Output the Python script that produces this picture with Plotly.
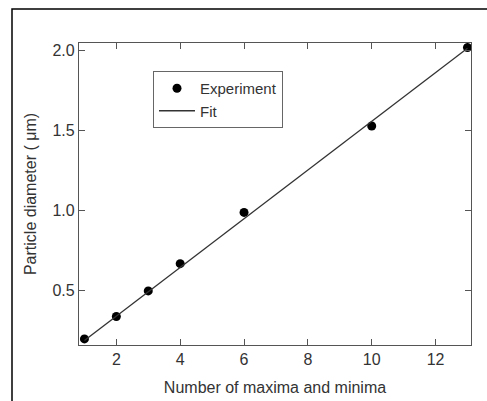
import plotly.graph_objects as go

# Data
x_exp = [1, 2, 3, 4, 6, 10, 13]
y_exp = [0.20, 0.34, 0.50, 0.67, 0.99, 1.53, 2.02]
x_fit = [1, 13]
y_fit = [0.19, 2.015]
x_ticks = [2, 4, 6, 8, 10, 12]
y_ticks = [0.5, 1.0, 1.5, 2.0]

W, H = 487, 401
L, R, T, B = 79, 16, 43, 56
pw, ph = W - L - R, H - T - B

def px(xp):
    return (xp - L) / pw

def py(yp):
    return (H - B - yp) / ph

FONT = "Liberation Sans, Arial, Helvetica"
TXT = "#333333"

fig = go.Figure()
fig.add_trace(go.Scatter(x=x_exp, y=y_exp, mode="markers", name="Experiment",
                         marker=dict(color="black", size=9)))
fig.add_trace(go.Scatter(x=x_fit, y=y_fit, mode="lines", name="Fit",
                         line=dict(color="#333333", width=1.3)))

axis_common = dict(showline=True, linecolor="#555555", linewidth=1.2, mirror="ticks",
                   ticks="inside", ticklen=6, tickcolor="#555555", tickwidth=1,
                   showgrid=False, zeroline=False, automargin=False,
                   tickfont=dict(family=FONT, size=16, color=TXT))

fig.update_layout(
    width=W, height=H,
    margin=dict(l=L, r=R, t=T, b=B, autoexpand=False),
    paper_bgcolor="white", plot_bgcolor="white",
    font=dict(family=FONT, size=15, color=TXT),
    xaxis=dict(range=[0.83, 13.11], tickvals=x_ticks,
               title=dict(text="Number of maxima and minima", standoff=14,
                          font=dict(size=16, color=TXT)),
               **axis_common),
    yaxis=dict(range=[0.162, 2.048], tickvals=y_ticks, tickformat=".1f",
               title=dict(text="Particle diameter ( μm)", standoff=11,
                          font=dict(size=16, color=TXT)),
               **axis_common),
    legend=dict(x=px(153), y=py(71), xanchor="left", yanchor="top",
                bordercolor="#666666", borderwidth=1, bgcolor="white",
                font=dict(size=15, color=TXT),
                itemwidth=36, tracegroupgap=0),
    showlegend=True,
    shapes=[dict(type="path", xref="paper", yref="paper",
                 path=f"M {px(12)} {py(410)} L {px(12)} {py(9)} L {px(495)} {py(9)}",
                 line=dict(color="black", width=1.5))],
)

fig.write_html("out.html", config={"displayModeBar": False},
               post_script="document.body.style.margin='0px';")
